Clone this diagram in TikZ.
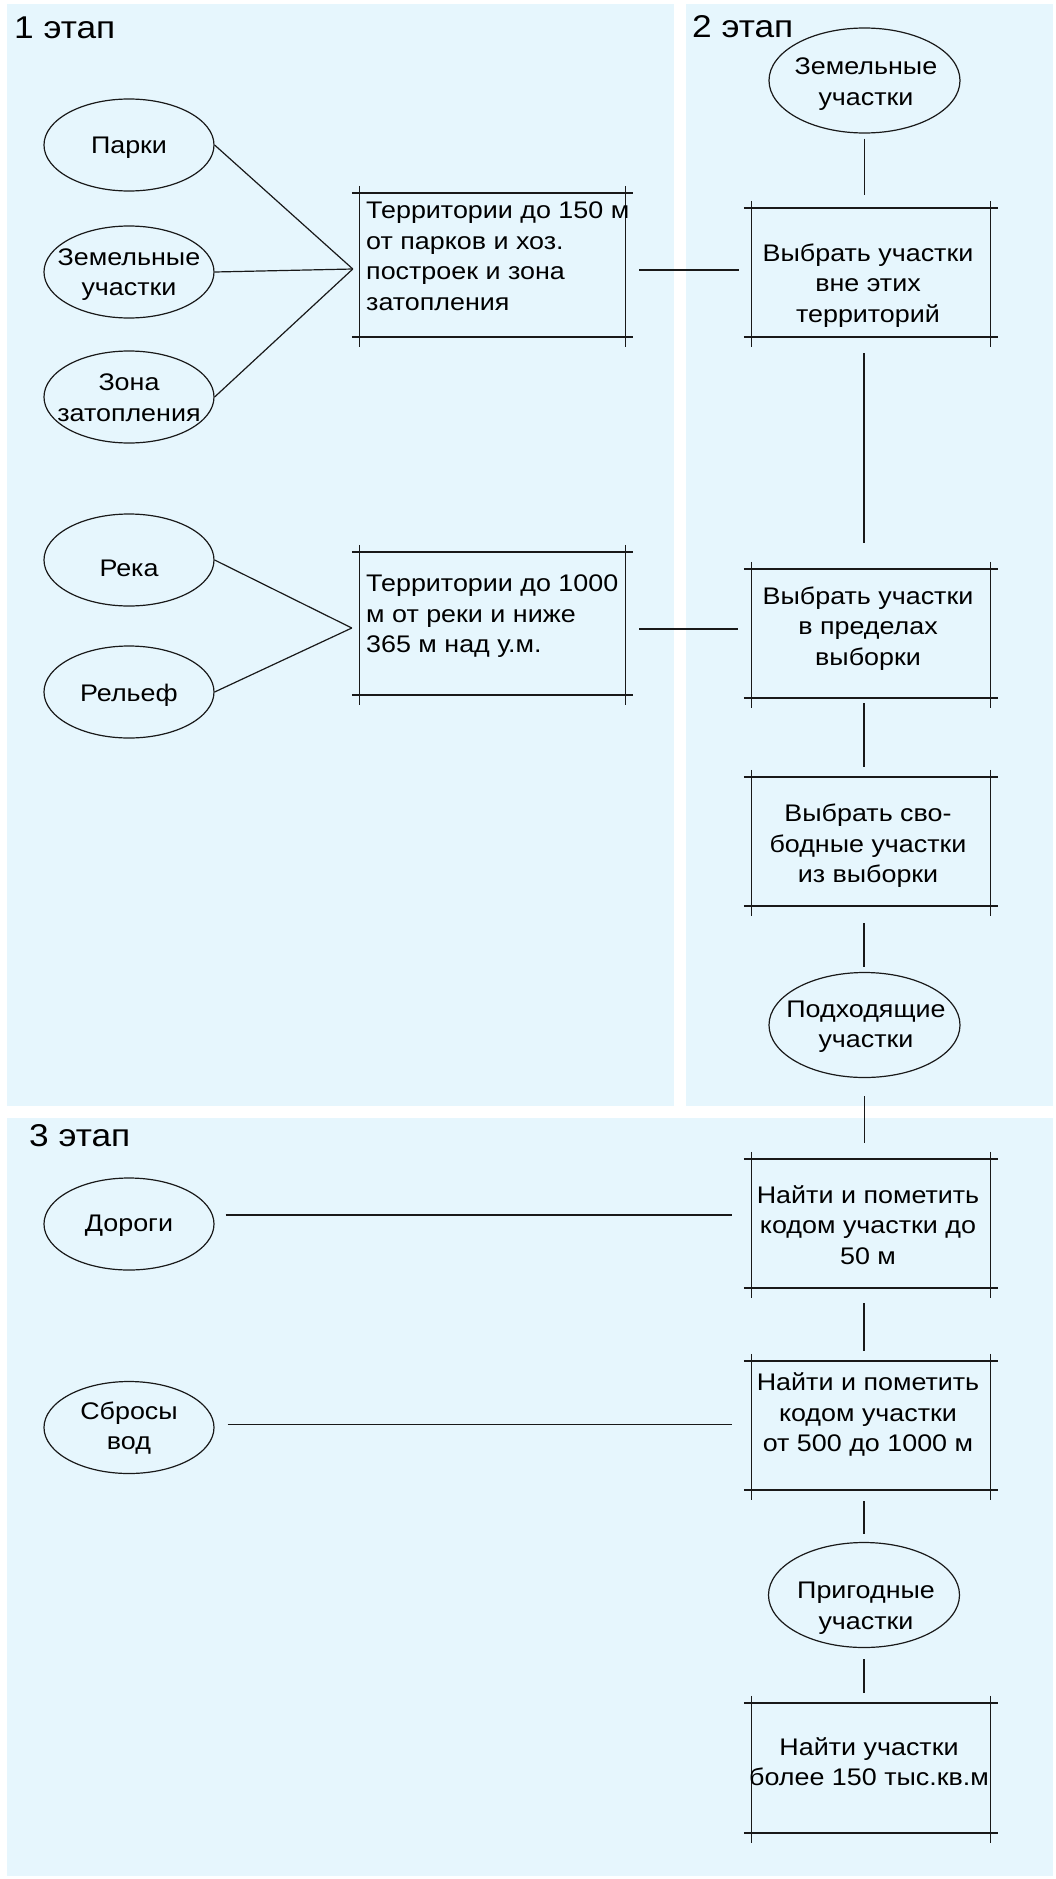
\documentclass[tikz,border=0pt]{standalone}
\usepackage{fontspec}
\setmainfont{Liberation Sans}[FakeStretch=1.12]
\usetikzlibrary{shapes.geometric}
\definecolor{panel}{RGB}{230,246,253}
\definecolor{ink}{RGB}{25,25,25}
\tikzset{
  oval/.style={ellipse, draw=ink, line width=1.2pt, minimum width=170pt, minimum height=92pt, inner sep=0pt},
  bigoval/.style={oval, minimum width=191pt, minimum height=105pt},
  lbl/.style={font=\fontsize{24}{30.5}\selectfont, align=center, inner sep=0pt, text=black},
  lbll/.style={lbl, align=left, anchor=west},
  frame/.style={draw=none, inner sep=0pt, minimum width=238pt, minimum height=129pt},
  wideframe/.style={frame, minimum width=265pt, minimum height=144pt},
  link/.style={draw=ink, line width=1.2pt},
  stagetitle/.style={font=\fontsize{31.5}{36}\selectfont, anchor=base west, inner sep=0pt, text=black},
}
\newcommand{\boxlines}[1]{%
  \draw[ink, line width=1.9pt] ([xshift=-8pt]#1.north west) -- ([xshift=8pt]#1.north east)
     ([xshift=-8pt]#1.south west) -- ([xshift=8pt]#1.south east);
  \draw[ink, line width=1.2pt] ([yshift=7pt]#1.north west) -- ([yshift=-10pt]#1.south west)
     ([yshift=7pt]#1.north east) -- ([yshift=-10pt]#1.south east);}
\begin{document}
\begin{tikzpicture}[x=1pt, y=-1pt]
\useasboundingbox (0,0) rectangle (1055,1879);
\fill[white] (0,0) rectangle (1055,1879);
% panels
\fill[panel] (7,4) rectangle (674,1106);
\fill[panel] (686,4) rectangle (1053,1106);
\fill[panel] (7,1118) rectangle (1053,1876);
% titles
\node[stagetitle] (t1) at (14,38) {1 этап};
\node[stagetitle] (t2) at (692,37) {2 этап};
\node[stagetitle] (t3) at (29,1146) {3 этап};

% stage 1 left ellipses
\node[oval] (parks) at (129,145) {};
\node[lbl] (parkst) at (129,148) {Парки};
\node[oval] (zem) at (129,272) {};
\node[lbl] (zemt) at (129,274.5) {Земельные\\участки};
\node[oval] (zona) at (129,397) {};
\node[lbl] (zonat) at (129,397.5) {Зона\\затопления};
\node[oval] (reka) at (129,560) {};
\node[lbl] (rekat) at (129,568) {Река};
\node[oval] (relef) at (129,692) {};
\node[lbl] (beleft) at (129,695) {Рельеф};

% stage 1 boxes
\node[wideframe] (b1) at (492.5,265) {};
\boxlines{b1}
\node[lbll] (b1t) at (366,256) {Территории до 150 м\\от парков и хоз.\\построек и зона\\затопления};
\node[wideframe, minimum height=143pt] (b2) at (492.5,623.5) {};
\boxlines{b2}
\node[lbll] (b2t) at (366,616.5) {Территории до 1000\\м от реки и ниже\\365 м над у.м.};

\coordinate (j1) at ([xshift=-7pt,yshift=-4pt]b1.west);
\coordinate (j2) at ([xshift=-8pt,yshift=-4.5pt]b2.west);
\draw[link] (parks.east) -- (j1);
\draw[link] (zem.east) -- (j1);
\draw[link] (zona.east) -- (j1);
\draw[link] (reka.east) -- (j2);
\draw[link] (relef.east) -- (j2);

% stage 2 column
\node[bigoval] (e1) at (864.5,80.5) {};
\node[lbl] (e1t) at (866,84) {Земельные\\участки};
\node[frame] (r1) at (871,272.5) {};
\boxlines{r1}
\node[lbl] (r1t) at (868,285.5) {Выбрать участки\\вне этих\\территорий};
\node[frame] (r2) at (871,633.5) {};
\boxlines{r2}
\node[lbl] (r2t) at (868,628.5) {Выбрать участки\\в пределах\\выборки};
\node[frame] (r3) at (871,841.5) {};
\boxlines{r3}
\node[lbl] (r3t) at (868,846) {Выбрать сво-\\бодные участки\\из выборки};
\node[bigoval] (e2) at (864.5,1025) {};
\node[lbl] (e2t) at (866,1026.5) {Подходящие\\участки};

% stage 3
\node[oval] (roads) at (129,1224) {};
\node[lbl] (roadst) at (129,1225.5) {Дороги};
\node[oval] (sbros) at (129,1427.5) {};
\node[lbl] (sbrost) at (129,1428) {Сбросы\\вод};
\node[frame] (r4) at (871,1223.5) {};
\boxlines{r4}
\node[lbl] (r4t) at (868,1225) {Найти и пометить\\кодом участки до\\50 м};
\node[frame] (r5) at (871,1425.5) {};
\boxlines{r5}
\node[lbl] (r5t) at (868,1414.5) {Найти и пометить\\кодом участки\\от 500 до 1000 м};
\node[bigoval] (e3) at (864,1595) {};
\node[lbl] (e3t) at (866,1608) {Пригодные\\участки};
\node[frame, minimum height=130pt] (r6) at (871,1768) {};
\boxlines{r6}
\node[lbl] (r6t) at (869,1761.5) {Найти участки\\более 150 тыс.кв.м};

% horizontal connectors
\coordinate (h1) at ([yshift=-5pt]b1.east);
\draw[link, shorten <=14pt, shorten >=13pt] (h1) -- (h1 -| r1.west);
\coordinate (h2) at ([yshift=-5.5pt]b2.east);
\draw[link, shorten <=14pt, shorten >=14pt] (h2) -- (h2 -| r2.west);
\coordinate (h3) at ([yshift=9pt]roads.east);
\draw[link, shorten <=11pt, shorten >=20pt] (h3) -- (h3 -| r4.west);
\coordinate (h4) at ([yshift=3pt]sbros.east);
\draw[link, shorten <=13pt, shorten >=20pt] (h4) -- (h4 -| r5.west);

% vertical connectors
\draw[link, shorten <=5pt, shorten >=13pt] (e1.south) -- (e1.south |- r1.north);
\coordinate (v1) at ([xshift=-7pt]r1.south);
\draw[link, shorten <=16pt, shorten >=26pt] (v1) -- (v1 |- r2.north);
\coordinate (v2) at ([xshift=-7pt]r2.south);
\draw[link, shorten <=5pt, shorten >=10pt] (v2) -- (v2 |- r3.north);
\coordinate (v3) at ([xshift=-7pt]r3.south);
\draw[link, shorten <=17pt, shorten >=5pt] (v3) -- (v3 |- e2.north);
\draw[link, shorten <=18pt, shorten >=16pt] (e2.south) -- (e2.south |- r4.north);
\coordinate (v4) at ([xshift=-7pt]r4.south);
\draw[link, shorten <=15pt, shorten >=10pt] (v4) -- (v4 |- r5.north);
\coordinate (v5) at ([xshift=-7pt]r5.south);
\draw[link, shorten <=11pt, shorten >=8pt] (v5) -- (v5 |- e3.north);
\draw[link, shorten <=11pt, shorten >=10pt] (e3.south) -- (e3.south |- r6.north);
\end{tikzpicture}
\end{document}
